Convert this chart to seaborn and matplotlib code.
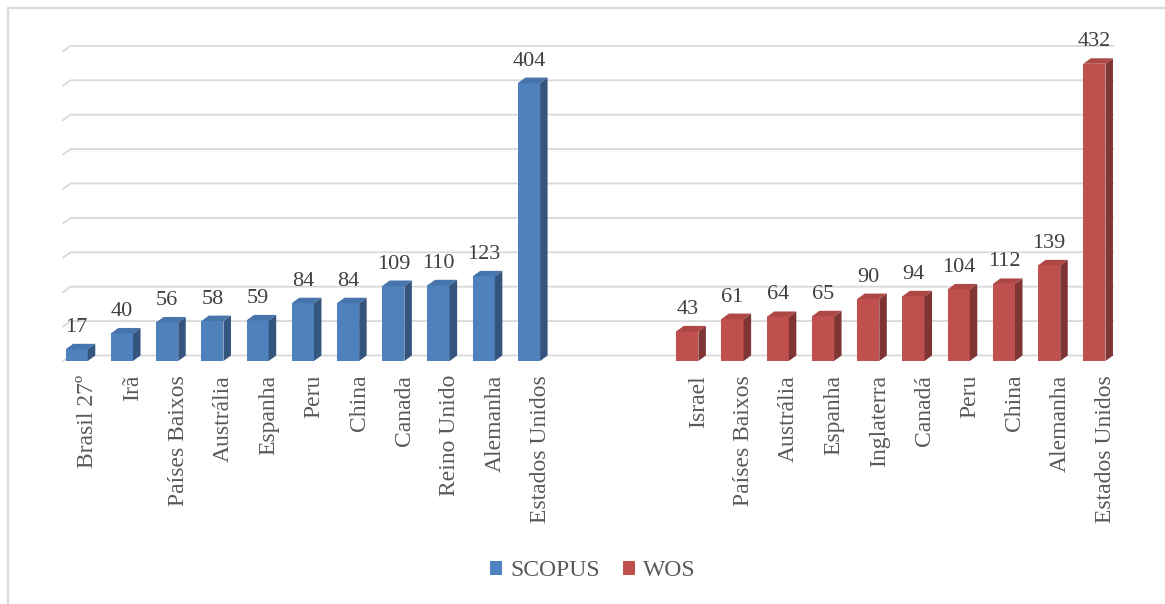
import numpy as np
import pandas as pd
import seaborn as sns
import matplotlib
matplotlib.use("Agg")
import matplotlib.pyplot as plt
from matplotlib.patches import Polygon, Rectangle
from matplotlib.lines import Line2D
from matplotlib.colors import to_rgb

# --- data -------------------------------------------------------------
scopus_paises = ["Brasil 27º", "Irã", "Países Baixos", "Austrália", "Espanha", "Peru",
                 "China", "Canada", "Reino Unido", "Alemanha", "Estados Unidos"]
scopus_valores = [17, 40, 56, 58, 59, 84, 84, 109, 110, 123, 404]

wos_paises = ["Israel", "Países Baixos", "Austrália", "Espanha", "Inglaterra", "Canadá",
              "Peru", "China", "Alemanha", "Estados Unidos"]
wos_valores = [43, 61, 64, 65, 90, 94, 104, 112, 139, 432]

bases = ["SCOPUS", "WOS"]
cores = {"SCOPUS": "#4F81BD", "WOS": "#C0504D"}

# --- layout ------------------------------------------------------------
W, H, DPI = 1165, 604, 100
gap = 3.5
pos_scopus = np.arange(len(scopus_valores), dtype=float)
pos_wos = pos_scopus[-1] + gap + np.arange(len(wos_valores), dtype=float)

df = pd.DataFrame({
    "pos": np.concatenate([pos_scopus, pos_wos]),
    "valor": scopus_valores + wos_valores,
    "base": ["SCOPUS"] * len(scopus_valores) + ["WOS"] * len(wos_valores),
})

sns.set_theme(style="white")
plt.rcParams["font.family"] = ["Liberation Serif", "DejaVu Serif"]

fig = plt.figure(figsize=(W / DPI, H / DPI), dpi=DPI)
fig.patch.set_facecolor("white")

# front plane of the plot in pixels
px_left, px_right = 63, 1106
px_base, px_top = 361, 51.4
ymax = 450
ax = fig.add_axes([px_left / W, (H - px_base) / H,
                   (px_right - px_left) / W, (px_base - px_top) / H])
ax.set_facecolor("none")

x_unit = 45.23
x0 = (px_left - 76.7) / x_unit
x1 = x0 + (px_right - px_left) / x_unit
ax.set_xlim(x0, x1)
ax.set_ylim(0, ymax)

sns.barplot(data=df, x="pos", y="valor", hue="base", hue_order=bases,
            palette=cores, native_scale=True, dodge=False, width=0.49,
            saturation=1, linewidth=0, ax=ax, zorder=3)

# depth of the 3D effect, in pixels and in data/axes units
depth_px, rise_px = 7.5, 5.5
y_unit = (px_base - px_top) / ymax
dxd = depth_px / x_unit
dyd = rise_px / y_unit
dxf = depth_px / (px_right - px_left)

# back-wall gridlines with the floor diagonal on the left
grid_col = "#D9D9D9"
yt = ax.get_yaxis_transform()
for v in range(0, ymax + 1, 50):
    ax.add_line(Line2D([0, dxf, 1 + dxf], [v, v + dyd, v + dyd], transform=yt,
                       color=grid_col, lw=1.3, clip_on=False, zorder=0))


def shade(c, f):
    r, g, b = to_rgb(c)
    return (r * f, g * f, b * f)


bars = [p for p in ax.patches if isinstance(p, Rectangle)]
for p in bars:
    xa = p.get_x()
    xb = xa + p.get_width()
    h = p.get_height()
    fc = p.get_facecolor()
    side = Polygon([(xb, 0), (xb + dxd, dyd), (xb + dxd, h + dyd), (xb, h)],
                   closed=True, facecolor=shade(fc, 0.66), edgecolor="none",
                   zorder=3, clip_on=False)
    top = Polygon([(xa, h), (xa + dxd, h + dyd), (xb + dxd, h + dyd), (xb, h)],
                  closed=True, facecolor=shade(fc, 0.9), edgecolor="none",
                  zorder=3, clip_on=False)
    ax.add_patch(side)
    ax.add_patch(top)

for cont in ax.containers:
    ax.bar_label(cont, fmt="%d", padding=9, fontsize=16, color="#404040",
                 clip_on=False)

# category labels sit on the middle of the floor depth
tick_shift = 11 / x_unit
ax.set_xticks(np.concatenate([pos_scopus, pos_wos]) + tick_shift)
ax.set_xticklabels(scopus_paises + wos_paises, rotation=90, fontsize=17,
                   color="#595959", va="top", ha="center")
ax.tick_params(axis="x", length=0, pad=10)
ax.set_yticks([])
ax.set_xlabel("")
ax.set_ylabel("")
for s in ax.spines.values():
    s.set_visible(False)

sns.move_legend(ax, "center", bbox_to_anchor=(0.509, 0.055),
                bbox_transform=fig.transFigure, ncol=2, frameon=False,
                title=None, fontsize=17, handlelength=0.5, handleheight=0.5,
                handletextpad=0.35, columnspacing=1.0)
for t in ax.get_legend().get_texts():
    t.set_color("#595959")

# chart frame
fig.add_artist(Line2D([8 / W, 8 / W], [0, (H - 8) / H], color="#D9D9D9", lw=1.6))
fig.add_artist(Line2D([8 / W, 1], [(H - 8) / H, (H - 8) / H], color="#D9D9D9", lw=1.6))

fig.savefig("out.png", dpi=DPI, facecolor="white")
